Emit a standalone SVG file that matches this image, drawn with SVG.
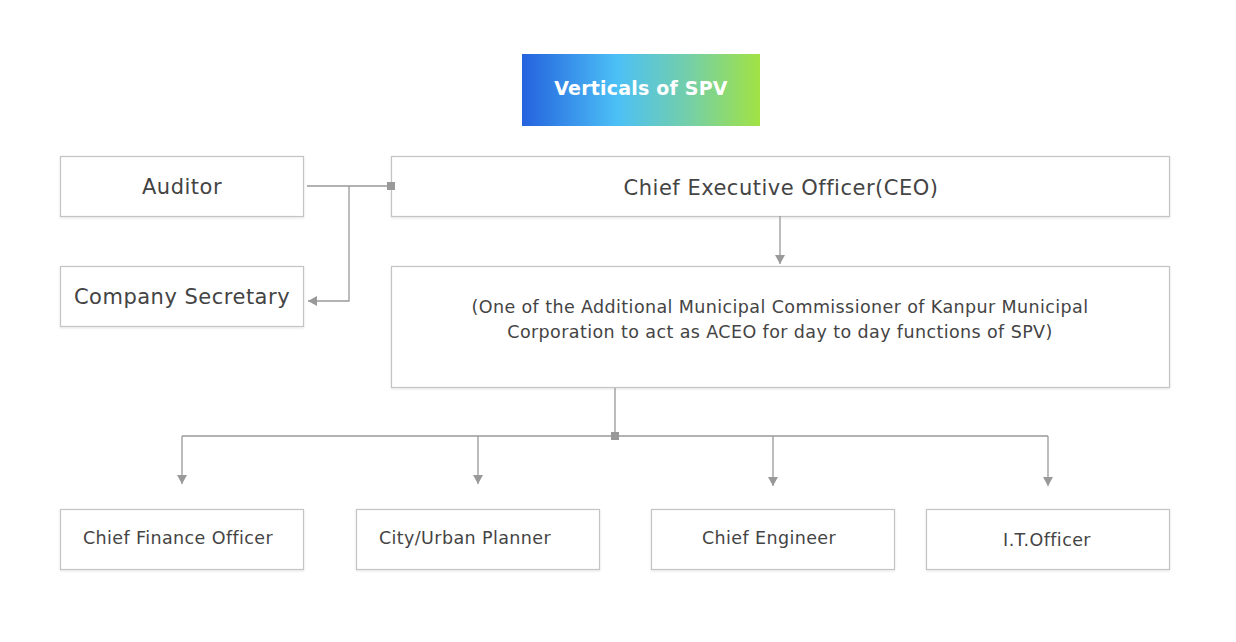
<svg xmlns="http://www.w3.org/2000/svg" width="1236" height="642" viewBox="0 0 1236 642">
<style>
.box{fill:#fff;stroke:#c4c4c4;stroke-width:1.2}
.t{font-family:"DejaVu Sans","Liberation Sans",sans-serif;fill:#444;text-anchor:middle}
.big{font-size:21px;letter-spacing:0.5px}
.sm{font-size:17.5px;letter-spacing:0.4px}
.ln{fill:none;stroke:#999;stroke-width:1.3}
</style>
<defs>
<linearGradient id="g" x1="0" y1="0" x2="1" y2="0">
<stop offset="0" stop-color="#2462de"/>
<stop offset="0.4" stop-color="#4cc0f6"/>
<stop offset="0.7" stop-color="#74cfa8"/>
<stop offset="1" stop-color="#a1e244"/>
</linearGradient>
<filter id="sh" x="-5%" y="-5%" width="110%" height="120%">
<feDropShadow dx="0" dy="1" stdDeviation="1" flood-color="#000" flood-opacity="0.12"/>
</filter>
<marker id="ar" markerWidth="10" markerHeight="10" refX="9" refY="5" orient="auto" markerUnits="userSpaceOnUse">
<path d="M0,0 L9,5 L0,10 Z" fill="#999"/>
</marker>
</defs>
<rect width="1236" height="642" fill="#fff"/>
<g id="title">
<rect x="522" y="54" width="238" height="72" fill="url(#g)"/>
<text x="641" y="95" font-family="DejaVu Sans,Liberation Sans,sans-serif" font-size="19" font-weight="bold" letter-spacing="0.2" fill="#fff" text-anchor="middle">Verticals of SPV</text>
</g>
<g id="auditor">
<rect class="box" x="60.5" y="156.5" width="243" height="60" filter="url(#sh)"/>
<text class="t big" x="182" y="194">Auditor</text>
</g>
<g id="ceo">
<rect class="box" x="391.5" y="156.5" width="778" height="60" filter="url(#sh)"/>
<text class="t big" x="781" y="195">Chief Executive Officer(CEO)</text>
</g>
<g id="secretary">
<rect class="box" x="60.5" y="266.5" width="243" height="60" filter="url(#sh)"/>
<text class="t big" x="182" y="304">Company Secretary</text>
</g>
<g id="aceo">
<rect class="box" x="391.5" y="266.5" width="778" height="121" filter="url(#sh)"/>
<text class="t sm" x="780" y="313">(One of the Additional Municipal Commissioner of Kanpur Municipal</text>
<text class="t sm" x="780" y="338">Corporation to act as ACEO for day to day functions of SPV)</text>
</g>
<g id="cfo">
<rect class="box" x="60.5" y="509.5" width="243" height="60" filter="url(#sh)"/>
<text class="t sm" x="178" y="544">Chief Finance Officer</text>
</g>
<g id="planner">
<rect class="box" x="356.5" y="509.5" width="243" height="60" filter="url(#sh)"/>
<text class="t sm" x="465" y="544">City/Urban Planner</text>
</g>
<g id="engineer">
<rect class="box" x="651.5" y="509.5" width="243" height="60" filter="url(#sh)"/>
<text class="t sm" x="769" y="544">Chief Engineer</text>
</g>
<g id="it">
<rect class="box" x="926.5" y="509.5" width="243" height="60" filter="url(#sh)"/>
<text class="t sm" x="1047" y="546">I.T.Officer</text>
</g>
<g id="connectors">
<path class="ln" d="M307,186 H391"/>
<rect x="387" y="182" width="8" height="8" fill="#999"/>
<path class="ln" stroke="#bbb" d="M349,186 V301 H308" marker-end="url(#ar)"/>
<path class="ln" d="M780,216 V264" marker-end="url(#ar)"/>
<path class="ln" d="M615,388 V436"/>
<path class="ln" d="M182,436 H1048"/>
<rect x="611" y="432" width="8" height="8" fill="#999"/>
<path class="ln" d="M182,436 V484" marker-end="url(#ar)"/>
<path class="ln" d="M478,436 V484" marker-end="url(#ar)"/>
<path class="ln" d="M773,436 V486" marker-end="url(#ar)"/>
<path class="ln" d="M1048,436 V486" marker-end="url(#ar)"/>
</g>
</svg>
